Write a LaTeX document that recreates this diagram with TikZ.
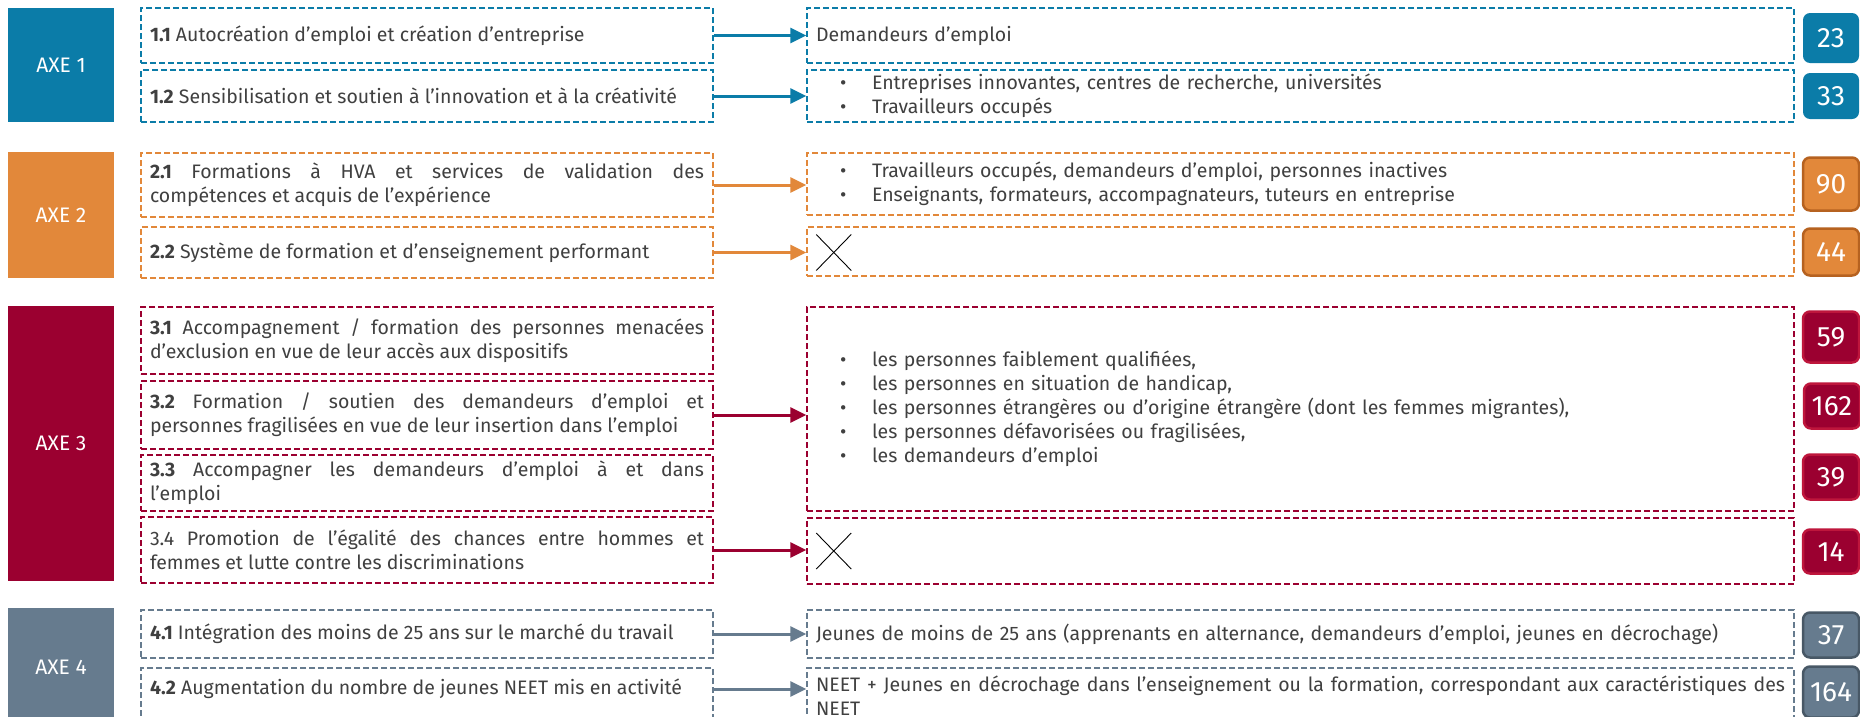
\documentclass[tikz,border=0pt]{standalone}
\usepackage{fontspec}
\setmainfont{Fira Sans}
\usetikzlibrary{arrows.meta,calc}
\definecolor{blueC}{RGB}{11,124,168}
\definecolor{orangeC}{RGB}{226,136,58}
\definecolor{orangeD}{RGB}{182,98,32}
\definecolor{redC}{RGB}{155,0,48}
\definecolor{redD}{RGB}{190,22,60}
\definecolor{slateC}{RGB}{102,123,142}
\definecolor{slateD}{RGB}{72,88,102}
\definecolor{txt}{RGB}{64,64,64}
\hyphenpenalty=10000
\exhyphenpenalty=10000
\newcommand\myitem{\hspace*{24pt}\makebox[32pt][l]{•}}
\tikzset{
  every node/.style={font=\fontsize{19.5}{24}\selectfont, text=txt},
  axebox/.style={fill=#1, text=white, minimum width=106pt, inner sep=0pt, font=\fontsize{21}{24}\selectfont},
  dbox/.style={draw=#1, line width=1.5pt, dash pattern=on 6pt off 3pt},
  lbox/.style={dbox=#1, text width=554pt, inner xsep=9pt, inner ysep=0pt, align=justify},
  rbox/.style={dbox=#1, text width=969pt, inner xsep=9pt, inner ysep=0pt, align=left},
  rjbox/.style={dbox=#1, text width=969pt, inner xsep=9pt, inner ysep=0pt, align=justify},
  badge/.style={fill=#1, rounded corners=7pt, minimum width=56pt, inner sep=0pt, text=white, font=\fontsize{28}{30}\selectfont},
  conn/.style={draw=#1, line width=3pt, -{Triangle[length=16pt,width=15pt]}},
  xmark/.style={draw=black, line width=0.9pt},
}
\begin{document}
\begin{tikzpicture}[x=1pt,y=-1pt]
\useasboundingbox (0,0) rectangle (1860,716);
\clip (0,0) rectangle (1860,716);
\fill[white] (0,0) rectangle (1860,716);

% AXE boxes
\node[axebox=blueC, minimum height=114pt] (a1) at (61,65) {AXE 1};
\node[axebox=orangeC, minimum height=126pt] (a2) at (61,215) {AXE 2};
\node[axebox=redC, minimum height=275pt] (a3) at (61,443.5) {AXE 3};
\node[axebox=slateC, minimum height=118pt] (a4) at (61,667) {AXE 4};

% badges
\node[badge=blueC, minimum height=50pt] (b23) at (1831,38) {23};
\node[badge=blueC, minimum height=46pt] (b33) at (1831,96) {33};
\node[badge=orangeC, draw=orangeD, line width=2.5pt, minimum height=53pt] (b90) at (1831,184) {90};
\node[badge=orangeC, draw=orangeD, line width=2.5pt, minimum height=47pt] (b44) at (1831,252) {44};
\node[badge=redC, draw=redD, line width=2.5pt, minimum height=51pt] (b59) at (1831,337) {59};
\node[badge=redC, draw=redD, line width=2.5pt, minimum height=45pt] (b162) at (1832,406) {162};
\node[badge=redC, draw=redD, line width=2.5pt, minimum height=45pt] (b39) at (1831,477) {39};
\node[badge=redC, draw=redD, line width=2.5pt, minimum height=44pt] (b14) at (1831,551.5) {14};
\node[badge=slateC, draw=slateD, line width=2.5pt, minimum height=45pt] (b37) at (1831,635) {37};
\node[badge=slateC, draw=slateD, line width=2.5pt, minimum height=51pt] (b164) at (1831,692) {164};

% left boxes
\node[lbox=blueC, minimum height=55pt] (l11) at (427,35.5) {\textbf{1.1} Autocréation d’emploi et création d’entreprise};
\node[lbox=blueC, minimum height=52pt] (l12) at (427,96) {\textbf{1.2} Sensibilisation et soutien à l’innovation et à la créativité};
\node[lbox=orangeC, minimum height=64pt] (l21) at (427,185) {\textbf{2.1} Formations à HVA et services de validation des\linebreak compétences et acquis de l’expérience};
\node[lbox=orangeC, minimum height=51pt] (l22) at (427,252.5) {\textbf{2.2} Système de formation et d’enseignement performant};
\node[lbox=redC, minimum height=67pt] (l31) at (427,340.5) {\textbf{3.1} Accompagnement / formation des personnes menacées\linebreak d’exclusion en vue de leur accès aux dispositifs};
\node[lbox=redC, minimum height=68pt] (l32) at (427,415) {\textbf{3.2} Formation / soutien des demandeurs d’emploi et\linebreak personnes fragilisées en vue de leur insertion dans l’emploi};
\node[lbox=redC, minimum height=56pt] (l33) at (427,483) {\textbf{3.3} Accompagner les demandeurs d’emploi à et dans\linebreak l’emploi};
\node[lbox=redC, minimum height=66pt] (l34) at (427,550) {3.4 Promotion de l’égalité des chances entre hommes et\linebreak femmes et lutte contre les discriminations};
\node[lbox=slateC, minimum height=48pt] (l41) at (427,634) {\textbf{4.1} Intégration des moins de 25 ans sur le marché du travail};
\node[dbox=slateC, minimum width=572pt, minimum height=56pt, inner sep=0pt] (l42) at (427,696) {};
\node[anchor=west, inner sep=0pt] (t42) at (150,689) {\textbf{4.2} Augmentation du nombre de jeunes NEET mis en activité};

% right boxes
\node[rbox=blueC, minimum height=55pt] (r11) at (1300.5,35.5) {Demandeurs d’emploi};
\node[rbox=blueC, minimum height=52pt] (r12) at (1300.5,96) {\myitem Entreprises innovantes, centres de recherche, universités\\\myitem Travailleurs occupés};
\node[rbox=orangeC, minimum height=62pt] (r21) at (1300.5,184) {\myitem Travailleurs occupés, demandeurs d’emploi, personnes inactives\\\myitem Enseignants, formateurs, accompagnateurs, tuteurs en entreprise};
\node[rbox=orangeC, minimum height=49pt] (r22) at (1300.5,251.5) {};
\node[rbox=redC, minimum height=204pt] (r3) at (1300.5,409) {\myitem les personnes faiblement qualifiées,\\\myitem les personnes en situation de handicap,\\\myitem les personnes étrangères ou d’origine étrangère (dont les femmes migrantes),\\\myitem les personnes défavorisées ou fragilisées,\\\myitem les demandeurs d’emploi};
\node[rbox=redC, minimum height=66pt] (r34) at (1300.5,551) {};
\node[rbox=slateC, minimum height=48pt] (r41) at (1300.5,634) {Jeunes de moins de 25 ans (apprenants en alternance, demandeurs d’emploi, jeunes en décrochage)};
\node[rjbox=slateC, minimum height=56pt] (r42) at (1300.5,696) {NEET + Jeunes en décrochage dans l’enseignement ou la formation, correspondant aux caractéristiques des\linebreak NEET};

% X marks
\draw[xmark] ($(r22.west)+(10,-17)$) -- ++(35,36);
\draw[xmark] ($(r22.west)+(10,19)$) -- ++(35,-36);
\draw[xmark] ($(r34.west)+(10,-18)$) -- ++(35,36);
\draw[xmark] ($(r34.west)+(10,18)$) -- ++(35,-36);

% connectors
\draw[conn=blueC] (l11.east) -- (r11.west);
\draw[conn=blueC] (l12.east) -- (r12.west);
\draw[conn=orangeC] (l21.east) -- (l21.east -| r21.west);
\draw[conn=orangeC] (l22.east) -- (l22.east -| r22.west);
\draw[conn=redC] (l32.east) -- (l32.east -| r3.west);
\draw[conn=redC] (l34.east) -- (l34.east -| r34.west);
\draw[conn=slateC] (l41.east) -- (r41.west);
\draw[conn=slateC] (t42.center -| l42.east) -- (t42.center -| r42.west);
\end{tikzpicture}
\end{document}
